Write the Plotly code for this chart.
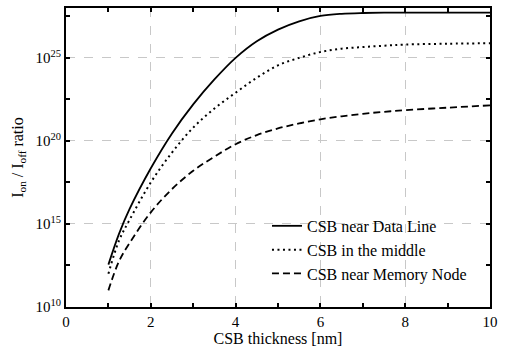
import plotly.graph_objects as go

# CSB thickness [nm] and log10 of the Ion/Ioff ratio for each CSB position
thickness = [1, 1.25, 1.5, 2, 2.5, 3, 3.5, 4, 4.5, 5, 5.5, 6, 6.5, 7, 7.5, 8, 9, 10]
exp_data_line = [12.55, 14.4, 15.9, 18.35, 20.45, 22.2, 23.7, 25.0, 26.0, 26.7, 27.2,
                 27.52, 27.65, 27.7, 27.72, 27.72, 27.72, 27.72]
exp_middle = [12.0, 14.0, 15.25, 17.5, 19.3, 20.8, 21.95, 22.9, 23.8, 24.55, 25.0,
              25.35, 25.55, 25.65, 25.73, 25.8, 25.85, 25.88]
exp_memory = [11.0, 12.75, 13.85, 15.7, 17.1, 18.2, 19.05, 19.8, 20.35, 20.75, 21.05,
              21.3, 21.48, 21.63, 21.75, 21.85, 22.0, 22.14]

series_names = ["CSB near Data Line", "CSB in the middle", "CSB near Memory Node"]

y_major_exps = [10, 15, 20, 25]
y_minor_exps = [12.5, 17.5, 22.5, 27.5]
x_major = [0, 2, 4, 6, 8, 10]
x_minor = [1, 3, 5, 7, 9]

FONT = "Liberation Serif"

fig = go.Figure()
styles = [
    dict(color="black", width=1.8, dash="solid"),
    dict(color="black", width=2.0, dash="2px,3.5px"),
    dict(color="black", width=1.8, dash="7px,4px"),
]
for es, name, st in zip([exp_data_line, exp_middle, exp_memory], series_names, styles):
    fig.add_trace(go.Scatter(
        x=thickness, y=[10.0 ** e for e in es], mode="lines", name=name,
        line=dict(shape="spline", smoothing=1.0, **st),
    ))

axis_common = dict(
    showline=True, linecolor="black", linewidth=2, mirror="ticks",
    ticks="inside", ticklen=4, tickwidth=1.5, tickcolor="black",
    showgrid=True, gridcolor="#c8c8c8", griddash="dash", gridwidth=1,
    zeroline=False, tickfont=dict(family=FONT, size=15, color="black"),
)

fig.update_xaxes(
    range=[0, 10], tickvals=x_major, ticktext=[str(v) for v in x_major],
    minor=dict(tickvals=x_minor, ticks="inside", ticklen=4, tickwidth=1.5,
               tickcolor="black", showgrid=False),
    title=dict(text="CSB thickness [nm]", font=dict(family=FONT, size=16, color="black"),
               standoff=0),
    **axis_common,
)
fig.update_yaxes(
    type="log", range=[10, 28],
    tickvals=[10.0 ** e for e in y_major_exps],
    ticktext=[f"10<sup>{e}</sup>" for e in y_major_exps],
    minor=dict(tickvals=[10.0 ** e for e in y_minor_exps], ticks="inside", ticklen=4,
               tickwidth=1.5, tickcolor="black", showgrid=False),
    title=dict(text="I<sub>on</sub> / I<sub>off</sub> ratio",
               font=dict(family=FONT, size=16, color="black"), standoff=8),
    **axis_common,
)

fig.update_layout(
    width=507, height=347,
    margin=dict(l=66, r=17, t=6, b=38),
    plot_bgcolor="white", paper_bgcolor="white",
    font=dict(family=FONT, size=15, color="black"),
    showlegend=True,
    legend=dict(x=0.474, y=0.328, xanchor="left", yanchor="top",
                bgcolor="rgba(255,255,255,0)", borderwidth=0,
                font=dict(family=FONT, size=16, color="black")),
)

fig.write_html("out.html")
